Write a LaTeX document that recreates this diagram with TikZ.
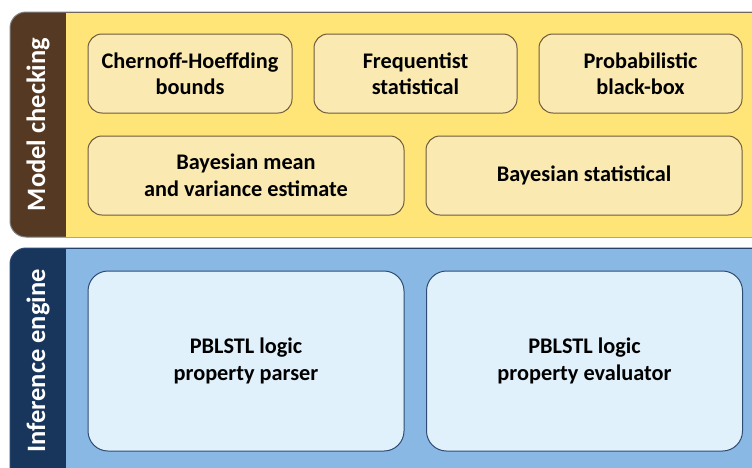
\documentclass[tikz,border=0pt]{standalone}
\usepackage{fontspec}
\setmainfont{Carlito}
\definecolor{mcbrown}{RGB}{86,57,34}
\definecolor{mcyellow}{RGB}{255,228,120}
\definecolor{mcbox}{RGB}{250,234,178}
\definecolor{mcline}{RGB}{110,90,60}
\definecolor{iedark}{RGB}{24,54,92}
\definecolor{ieblue}{RGB}{138,184,228}
\definecolor{iebox}{RGB}{224,241,251}
\definecolor{ieline}{RGB}{45,75,115}
\begin{document}
\begin{tikzpicture}[x=1pt,y=-1pt,
  boxtext/.style={align=center, inner sep=0pt, line width=1pt,
    font=\fontsize{22.3}{26.5}\selectfont\bfseries},
  mcbox/.style={boxtext, draw=mcline, fill=mcbox, rounded corners=14pt,
    minimum height=79pt},
  iebox/.style={boxtext, draw=ieline, fill=iebox, rounded corners=20pt,
    minimum height=180pt, minimum width=316pt},
  sidelabel/.style={rotate=90, text=white,
    font=\fontsize{26.5}{30}\selectfont\bfseries}]
   \useasboundingbox (0,0) rectangle (752,467);
   \clip (0,0) rectangle (752,467);

   % model checking panel
   \draw[fill=mcbrown, draw=gray, line width=1pt, rounded corners=16pt] (10,12) rectangle (800,237);
   \fill[mcyellow] (66,12.5) rectangle (799.5,236.5);
   \node[sidelabel] (mclabel) at (38,124.5) {Model checking};
   \node[mcbox, minimum width=204pt] (chernoff) at (190,73.5) {Chernoff-Hoeffding\\bounds};
   \node[mcbox, minimum width=203pt] (freq) at (415.5,73.5) {Frequentist\\statistical};
   \node[mcbox, minimum width=203pt] (blackbox) at (640.5,73.5) {Probabilistic\\black-box};
   \node[mcbox, minimum width=316pt] (bayesmean) at (246,175.5) {Bayesian mean\\and variance estimate};
   \node[mcbox, minimum width=316pt] (bayesstat) at (584,175.5) {Bayesian statistical};

   % inference engine panel
   \draw[fill=iedark, draw=ieline, line width=1pt, rounded corners=16pt] (10,248) rectangle (800,500);
   \fill[ieblue] (66,248.5) rectangle (799.5,499.5);
   \node[sidelabel] (ielabel) at (38,361) {Inference engine};
   \node[iebox] (parser) at (246,361) {PBLSTL logic\\property parser};
   \node[iebox] (evaluator) at (584.5,361) {PBLSTL logic\\property evaluator};
\end{tikzpicture}
\end{document}
